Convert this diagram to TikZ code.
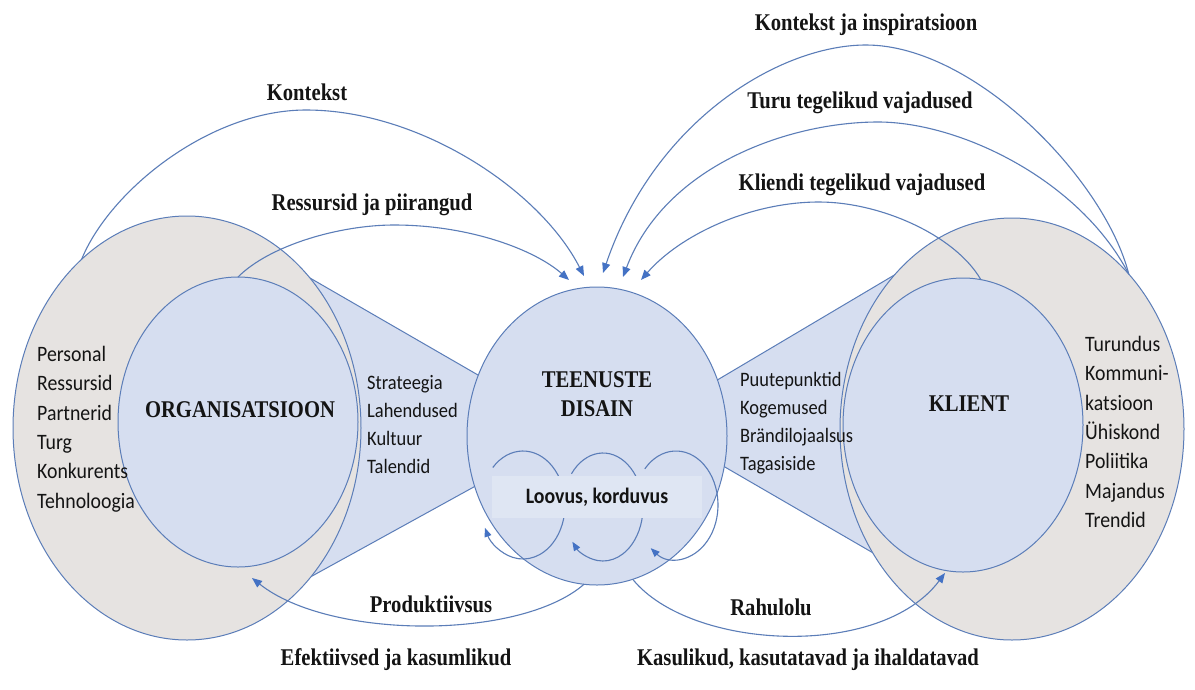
\documentclass[tikz,border=0pt]{standalone}
\usepackage{fontspec}
\usetikzlibrary{shapes.geometric,arrows.meta}
\newfontfamily\ttlfont{Liberation Serif}[FakeStretch=0.86]
\newfontfamily\lstfont{Carlito}[FakeStretch=0.9]
\definecolor{blueFill}{HTML}{D6DEF0}
\definecolor{grayFill}{HTML}{E6E3E1}
\definecolor{lineBlue}{HTML}{5B7DB8}
\definecolor{arrowBlue}{HTML}{4472C4}
\definecolor{boxFill}{HTML}{DFE6F3}
\definecolor{ink}{HTML}{141414}
\begin{document}
\begin{tikzpicture}[x=1pt,y=-1pt,
  blob/.style={ellipse, draw=lineBlue, line width=1pt, inner sep=0pt, outer sep=0pt},
  cone/.style={fill=blueFill, draw=lineBlue, line width=1pt, line join=round},
  flow/.style={draw=lineBlue, line width=1.1pt, -{Triangle[length=10pt,width=8pt,color=arrowBlue]}},
  turn/.style={draw=lineBlue, line width=1.1pt, -{Triangle[length=9pt,width=7pt,color=arrowBlue]}},
  ttl/.style={font=\ttlfont\bfseries\fontsize{24}{29}\selectfont, text=ink, inner sep=0pt, align=center},
  bigList/.style={font=\lstfont\fontsize{22}{29.4}\selectfont, text=ink, inner sep=0pt, align=left, anchor=west},
  smallList/.style={font=\lstfont\fontsize{20.5}{28}\selectfont, text=ink, inner sep=0pt, align=left, anchor=west}]
\path[use as bounding box, fill=white] (0,0) rectangle (1195,689);

% funnels linking the actors to the design circle
\path[cone] (284,263) -- (504,390) -- (501,472) -- (274,597) -- cycle;
\path[cone] (923,258) -- (692,395) -- (699,452) -- (906,572) -- cycle;

% environments
\node[blob, fill=grayFill, minimum width=348pt, minimum height=424pt] (orgenv) at (187,428) {};
\node[blob, fill=grayFill, minimum width=344pt, minimum height=422pt] (klientenv) at (1012,429) {};

% actors and the design circle
\node[blob, fill=blueFill, minimum width=240pt, minimum height=290pt] (org) at (238,422) {};
\node[blob, fill=blueFill, minimum width=240pt, minimum height=294pt] (klient) at (963,425) {};
\node[blob, fill=blueFill, minimum width=260pt, minimum height=298pt] (dsn) at (597,436) {};

% iteration loops
\coordinate (loopA) at (523,505);
\coordinate (loopB) at (603,507);
\coordinate (loopC) at (676,505);
\draw[turn] ([shift={(224:42 and 54)}]loopA) arc[start angle=224, end angle=515, x radius=42, y radius=54];
\draw[turn] ([shift={(218:40 and 54)}]loopB) arc[start angle=218, end angle=500, x radius=40, y radius=54];
\draw[turn] ([shift={(222:42 and 54)}]loopC) arc[start angle=222, end angle=487, x radius=42, y radius=54];
\node[fill=boxFill, minimum width=210pt, minimum height=42pt, inner sep=0pt,
      font=\lstfont\bfseries\fontsize{22}{26}\selectfont, text=ink] (loovus) at (597,497) {Loovus, korduvus};

% arrow tips
\coordinate (tipRes) at (569,280);
\coordinate (tipKon) at (584,276);
\coordinate (tipKji) at (603,273);
\coordinate (tipTuru) at (623,277);
\coordinate (tipKli) at (641,280);
\coordinate (tipProd) at (252,578);
\coordinate (tipRah) at (945,573);

% inputs to the design
\draw[flow] (orgenv.122) .. controls (110,190) and (210,110) .. (306,110)
            .. controls (420,110) and (540,190) .. (tipKon);
\draw[flow] (org.north) .. controls (270,245) and (340,225) .. (394,225)
            .. controls (470,225) and (535,250) .. (tipRes);
\draw[flow] (klientenv.53) .. controls (1105,180) and (975,45) .. (866,45)
            .. controls (780,45) and (655,120) .. (tipKji);
\draw[flow] (klientenv.53) .. controls (1080,180) and (960,122) .. (878,122)
            .. controls (790,122) and (665,165) .. (tipTuru);
\draw[flow] (klient.83) .. controls (955,235) and (880,202) .. (819,202)
            .. controls (750,202) and (680,235) .. (tipKli);

% outputs of the design
\draw[flow] (dsn.265) .. controls (520,640) and (330,640) .. (tipProd);
\draw[flow] (dsn.284) .. controls (690,650) and (880,660) .. (tipRah);

% labels
\node[ttl] (lKon) at (307,92) {Kontekst};
\node[ttl] (lRes) at (372,205) {Ressursid ja piirangud};
\node[ttl] (lKji) at (866,25) {Kontekst ja inspiratsioon};
\node[ttl] (lTuru) at (860,103) {Turu tegelikud vajadused};
\node[ttl] (lKli) at (862,185) {Kliendi tegelikud vajadused};
\node[ttl] (lDsn) at (597,394) {TEENUSTE\\DISAIN};
\node[ttl] (lOrg) at (240,410) {ORGANISATSIOON};
\node[ttl] (lKlient) at (969,404) {KLIENT};
\node[ttl] (lProd) at (431,604) {Produktiivsus};
\node[ttl] (lRah) at (771,607) {Rahulolu};
\node[ttl] (lEff) at (396,660) {Efektiivsed ja kasumlikud};
\node[ttl] (lKas) at (808,660) {Kasulikud, kasutatavad ja ihaldatavad};

% factor lists
\node[bigList] (orgFactors) at (37,429) {Personal\\Ressursid\\Partnerid\\Turg\\Konkurents\\Tehnoloogia};
\node[smallList] (orgAssets) at (367,425) {Strateegia\\Lahendused\\Kultuur\\Talendid};
\node[smallList] (touch) at (740,423) {Puutepunktid\\Kogemused\\Brändilojaalsus\\Tagasiside};
\node[bigList] (klientFactors) at (1085,432) {Turundus\\Kommuni-\\katsioon\\Ühiskond\\Poliitika\\Majandus\\Trendid};
\end{tikzpicture}
\end{document}
